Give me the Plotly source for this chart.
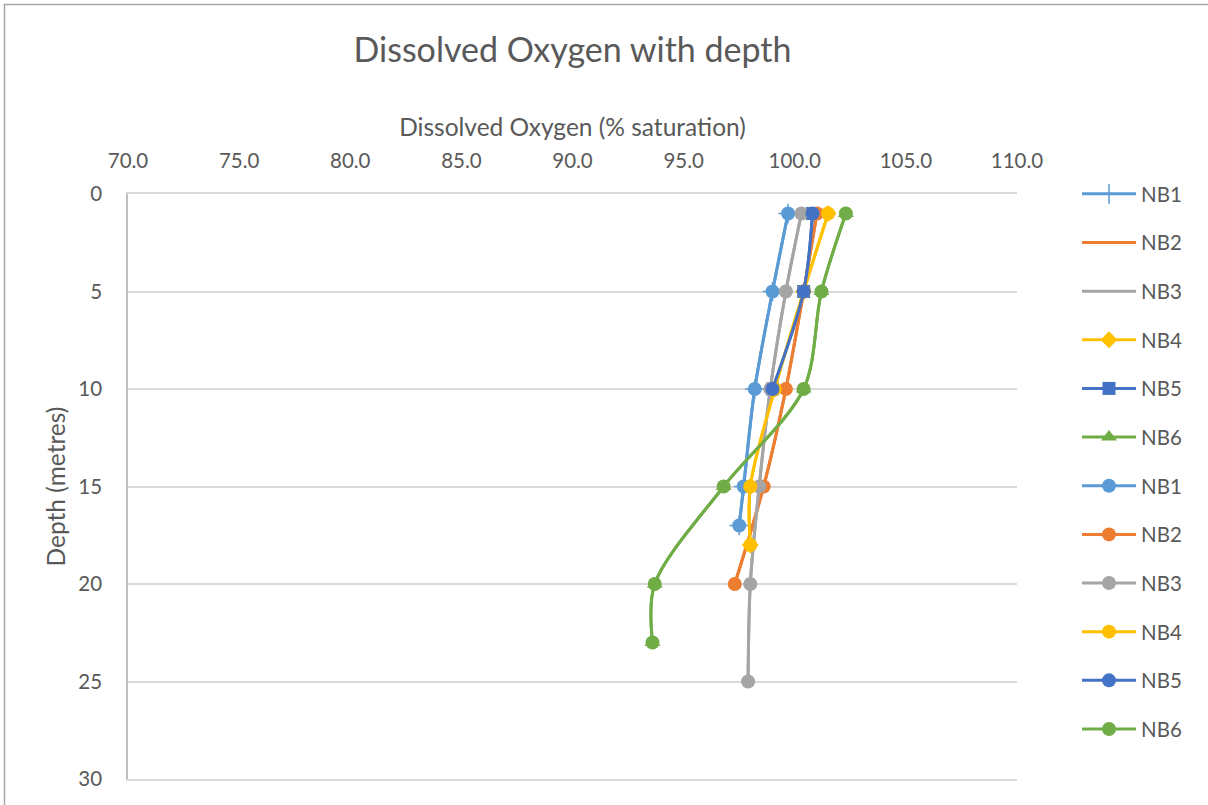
import plotly.graph_objects as go

# ---- data ----
series_names = ["NB1", "NB2", "NB3", "NB4", "NB5", "NB6"]
depth_nb1 = [1, 5, 10, 15, 17]
do_nb1 = [99.7, 99.0, 98.2, 97.7, 97.5]
depth_nb2 = [1, 5, 10, 15, 20]
do_nb2 = [101.0, 100.4, 99.6, 98.6, 97.3]
depth_nb3 = [1, 5, 10, 15, 20, 25]
do_nb3 = [100.3, 99.6, 98.9, 98.4, 98.0, 97.9]
depth_nb4 = [1, 5, 10, 15, 18]
do_nb4 = [101.5, 100.4, 99.1, 98.0, 98.0]
depth_nb5 = [1, 5, 10]
do_nb5 = [100.8, 100.4, 99.0]
depth_nb6 = [1, 5, 10, 15, 20, 23]
do_nb6 = [102.3, 101.2, 100.4, 96.8, 93.7, 93.6]

x_ticks = [70, 75, 80, 85, 90, 95, 100, 105, 110]
y_ticks = [0, 5, 10, 15, 20, 25, 30]

depths = [depth_nb1, depth_nb2, depth_nb3, depth_nb4, depth_nb5, depth_nb6]
dos = [do_nb1, do_nb2, do_nb3, do_nb4, do_nb5, do_nb6]
colors = ["#5B9BD5", "#ED7D31", "#A5A5A5", "#FFC000", "#4472C4", "#70AD47"]
first_symbols = ["cross-thin", "line-ew", "line-ew", "diamond", "square", "triangle-up"]
first_sizes = [14, 10, 10, 13, 13, 14]

FONT = "Lato"
TXT = "#595959"

fig = go.Figure()
gi = 0
for i in range(6):
    sym = first_symbols[i]
    thin = sym in ("cross-thin", "line-ew")
    fig.add_trace(go.Scatter(
        x=dos[i], y=depths[i], name=series_names[i], mode="lines+markers",
        line=dict(color=colors[i], width=3, shape="spline", smoothing=0.9),
        marker=dict(symbol=sym, size=first_sizes[i], color=colors[i],
                    line=dict(color=colors[i], width=1.5 if thin else 0)),
        legendgroup=f"g{gi}"))
    gi += 1
for i in range(6):
    fig.add_trace(go.Scatter(
        x=dos[i], y=depths[i], name=series_names[i], mode="lines+markers",
        line=dict(color=colors[i], width=3, shape="spline", smoothing=0.9),
        marker=dict(symbol="circle", size=14, color=colors[i]),
        legendgroup=f"g{gi}"))
    gi += 1

W, H = 1208, 805
L, R, T, B = 128, 1017, 194, 779
pw, ph = R - L, B - T

def px_x(p):
    return (p - L) / pw

def px_y(p):
    return (B - p) / ph

fig.update_layout(
    width=W, height=H,
    margin=dict(l=L, r=W - R, t=T, b=H - B),
    paper_bgcolor="white", plot_bgcolor="white",
    font=dict(family=FONT, color=TXT, size=20.5),
    title=dict(text="Dissolved Oxygen with depth", x=0.5, xref="paper",
               y=1 - 50 / H, yanchor="middle", xanchor="center",
               font=dict(size=34, color=TXT, family=FONT)),
    xaxis=dict(side="top", range=[70, 110], tickvals=x_ticks, tickformat=".1f",
               showgrid=False, zeroline=False, showline=True, mirror=True,
               linecolor="#D9D9D9", linewidth=1.5, ticks="",
               ticklabelstandoff=16,
               title=dict(text="Dissolved Oxygen (% saturation)", standoff=4,
                          font=dict(size=24.5, color=TXT))),
    yaxis=dict(range=[30, 0], tickvals=y_ticks, showgrid=True, gridcolor="#D9D9D9",
               gridwidth=1.5, zeroline=False, showline=True, linecolor="#BFBFBF",
               linewidth=1.5, ticks="", ticklabelstandoff=20,
               title=dict(text="Depth (metres)", standoff=6,
                          font=dict(size=24.5, color=TXT))),
    legend=dict(x=px_x(1077), y=px_y(174), xanchor="left", yanchor="top",
                font=dict(size=20.5, color=TXT), itemwidth=54, maxheight=800,
                tracegroupgap=19, bgcolor="rgba(0,0,0,0)"),
    showlegend=True,
    shapes=[dict(type="rect", xref="paper", yref="paper",
                 x0=px_x(4.5), x1=px_x(1215), y0=px_y(815), y1=px_y(4.5),
                 line=dict(color="#A6A6A6", width=1.5), fillcolor="rgba(0,0,0,0)",
                 layer="below")],
)

fig.write_html("out.html", config={"displayModeBar": False},
               post_script="document.body.style.margin='0';document.body.style.padding='0';")
